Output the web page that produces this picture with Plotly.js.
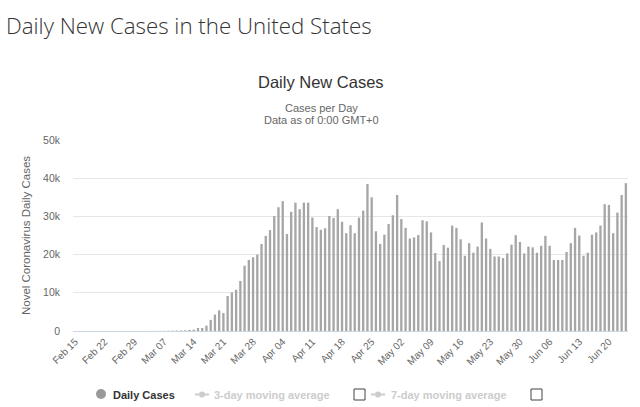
<!DOCTYPE html>
<html>
<head>
<meta charset="utf-8">
<script src="https://cdn.plot.ly/plotly-3.0.1.min.js"></script>
<style>
html, body { margin: 0; padding: 0; background: #ffffff; }
#chart { width: 640px; height: 407px; }
</style>
</head>
<body>
<div id="chart"></div>
<script>
// ---- data ----
const startDate = '2020-02-15';
const dailyCases = [
  0, 0, 0, 0, 0, 0, 1, 0, 0, 0, 0, 0, 3, 1, 6,
  8, 7, 14, 21, 30, 45, 40, 71, 95, 120, 154, 188,
  300, 350, 780, 790, 1400, 2900, 4300, 5400, 4700, 9150,
  10100, 10800, 13100, 17100, 18600, 19300, 20000, 22800, 24900, 26400,
  30100, 32400, 34000, 25400, 31200, 33600, 31900, 33600, 33600, 29700,
  27200, 26500, 26900, 30100, 29600, 31900, 28600, 25600, 27700, 25600,
  29700, 31500, 38500, 35000, 26100, 22800, 25200, 28000, 30300, 35600,
  29300, 27000, 24200, 24500, 25100, 29000, 28700, 25800, 20400, 18300,
  22500, 21800, 27600, 27000, 24000, 19700, 23000, 20500, 22100, 28400,
  24200, 21500, 19500, 19500, 19100, 20300, 22600, 25100, 23300, 20300,
  22100, 21900, 20500, 22300, 24900, 22300, 18600, 18600, 18600, 20700,
  23000, 27000, 25000, 19700, 20500, 25200, 25800, 27600, 33200, 33000,
  25600, 31000, 35600, 38700
];
const yTickVals = [0, 10000, 20000, 30000, 40000, 50000];
const yTickText = ['0', '10k', '20k', '30k', '40k', '50k'];
const pageTitle = 'Daily New Cases in the United States';
const chartTitle = 'Daily New Cases';
const chartSubtitle = ['Cases per Day', 'Data as of 0:00 GMT+0'];
const yAxisTitle = 'Novel Coronavirus Daily Cases';
const legendLabels = ['Daily Cases', '3-day moving average', '7-day moving average'];

// ---- derived categories ----
const dates = dailyCases.map((_, i) => {
  const d = new Date(startDate + 'T00:00:00Z');
  d.setUTCDate(d.getUTCDate() + i);
  return d.toISOString().slice(0, 10);
});

// ---- layout helpers (pixel -> paper) ----
const W = 640, H = 407;
const M = { l: 73, r: 12, t: 140, b: 76 };
const PW = W - M.l - M.r, PH = H - M.t - M.b;
const px = x => (x - M.l) / PW;
const py = y => (H - M.b - y) / PH;

const FONT = 'Liberation Sans, Arial, sans-serif';
const grey = '#cccccc';

const trace = {
  type: 'bar',
  x: dates,
  y: dailyCases,
  name: legendLabels[0],
  marker: { color: '#a6a6a6', line: { width: 0 } },
  hoverinfo: 'x+y'
};

const annotations = [
  { text: pageTitle, xref: 'paper', yref: 'paper', x: px(4), y: py(25), xanchor: 'left', yanchor: 'middle',
    showarrow: false, font: { family: 'Open Sans, sans-serif', size: 22.3, color: '#333333', weight: 300 } },
  { text: chartTitle, xref: 'paper', yref: 'paper', x: px(321), y: py(82), xanchor: 'center', yanchor: 'middle',
    showarrow: false, font: { family: FONT, size: 16.5, color: '#333333' } },
  { text: chartSubtitle[0], xref: 'paper', yref: 'paper', x: px(321), y: py(107.5), xanchor: 'center', yanchor: 'middle',
    showarrow: false, font: { family: FONT, size: 11, color: '#666666' } },
  { text: chartSubtitle[1], xref: 'paper', yref: 'paper', x: px(321), y: py(119.5), xanchor: 'center', yanchor: 'middle',
    showarrow: false, font: { family: FONT, size: 11, color: '#666666' } },
  // legend texts
  { text: legendLabels[0], xref: 'paper', yref: 'paper', x: px(111), y: py(394.5), xanchor: 'left', yanchor: 'middle',
    showarrow: false, font: { family: FONT, size: 11, color: '#333333', weight: 'bold' } },
  { text: legendLabels[1], xref: 'paper', yref: 'paper', x: px(212), y: py(394.5), xanchor: 'left', yanchor: 'middle',
    showarrow: false, font: { family: FONT, size: 11, color: grey, weight: 'bold' } },
  { text: legendLabels[2], xref: 'paper', yref: 'paper', x: px(389), y: py(394.5), xanchor: 'left', yanchor: 'middle',
    showarrow: false, font: { family: FONT, size: 11, color: grey, weight: 'bold' } }
];

const shapes = [
  // Daily cases symbol
  { type: 'circle', xref: 'paper', yref: 'paper', x0: px(96), x1: px(106), y0: py(399), y1: py(389),
    fillcolor: '#999999', line: { width: 0 } },
  // 3-day icon
  { type: 'line', xref: 'paper', yref: 'paper', x0: px(195), x1: px(209), y0: py(394.5), y1: py(394.5),
    line: { color: grey, width: 2 } },
  { type: 'circle', xref: 'paper', yref: 'paper', x0: px(199), x1: px(205), y0: py(397.5), y1: py(391.5),
    fillcolor: grey, line: { width: 0 } },
  // checkbox 1
  { type: 'rect', xref: 'paper', yref: 'paper', x0: px(354), x1: px(365), y0: py(400), y1: py(389),
    fillcolor: '#ffffff', line: { color: '#444444', width: 1 } },
  // 7-day icon
  { type: 'line', xref: 'paper', yref: 'paper', x0: px(371), x1: px(385), y0: py(394.5), y1: py(394.5),
    line: { color: grey, width: 2 } },
  { type: 'circle', xref: 'paper', yref: 'paper', x0: px(375), x1: px(381), y0: py(397.5), y1: py(391.5),
    fillcolor: grey, line: { width: 0 } },
  // checkbox 2
  { type: 'rect', xref: 'paper', yref: 'paper', x0: px(531), x1: px(542), y0: py(400), y1: py(389),
    fillcolor: '#ffffff', line: { color: '#444444', width: 1 } }
];

const layout = {
  width: W, height: H,
  margin: M,
  paper_bgcolor: '#ffffff',
  plot_bgcolor: '#ffffff',
  showlegend: false,
  bargap: 0.45,
  font: { family: FONT, color: '#666666' },
  xaxis: {
    type: 'date',
    range: ['2020-02-14 12:00', '2020-06-24 12:00'],
    tick0: startDate,
    dtick: 7 * 24 * 3600 * 1000,
    tickformat: '%b %d',
    tickangle: -45,
    tickfont: { family: FONT, size: 10, color: '#666666' },
    showgrid: false,
    showline: true,
    linecolor: '#ccd6eb',
    linewidth: 1,
    ticks: '',
    zeroline: false,
    fixedrange: true
  },
  yaxis: {
    range: [0, 50000],
    tickvals: yTickVals,
    ticktext: yTickText,
    tickfont: { family: FONT, size: 10.5, color: '#666666' },
    gridcolor: '#e6e6e6',
    gridwidth: 1,
    zeroline: false,
    showline: false,
    ticks: '',
    ticklabelstandoff: 12,
    fixedrange: true,
    title: { text: yAxisTitle, font: { family: FONT, size: 11.5, color: '#666666' }, standoff: 10 }
  },
  annotations: annotations,
  shapes: shapes
};

Plotly.newPlot('chart', [trace], layout, { displayModeBar: false, staticPlot: true });
</script>
</body>
</html>
